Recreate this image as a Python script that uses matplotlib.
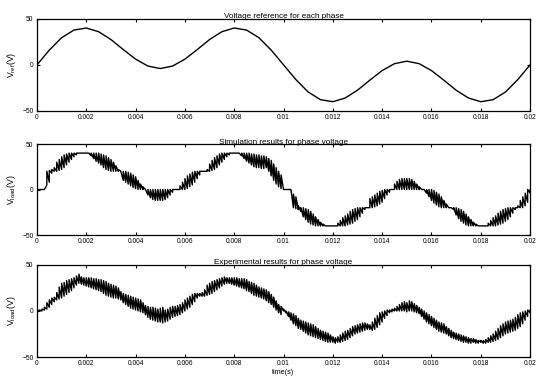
import numpy as np
import matplotlib
matplotlib.use("Agg")
import matplotlib.pyplot as plt

plt.rcParams['font.family'] = ['Liberation Sans', 'DejaVu Sans']
plt.rcParams['mathtext.default'] = 'regular'

# reference voltage, sampled every 0.5 ms
t_ref = np.linspace(0, 0.02, 41)
v_ref = [0, 16, 29.5, 37.8, 40, 36, 27.5, 16.6, 6.2, -1.3,
         -4, -1.3, 6.2, 16.6, 27.5, 36, 40, 37.8, 29.5, 16,
         0, -16, -29.5, -37.8, -40, -36, -27.5, -16.6, -6.2, 1.3,
         4, 1.3, -6.2, -16.6, -27.5, -36, -40, -37.8, -29.5, -16,
         0]

# PWM band (upper / lower edge) every 0.1 ms
t_pwm = np.linspace(0, 0.02, 201)

sim_hi = [0, 0, 0, 0, 20, 21, 22, 24, 30, 33,
          36, 38, 39, 40, 40, 40, 40, 40, 40, 40,
          40, 40, 40, 40, 40, 40, 39, 38, 37, 35,
          33, 30, 26, 22, 20, 20, 20, 19, 18, 16,
          14, 10, 6, 3, 0, 0, 0, 0, 0, 0,
          0, 0, 0, 0, 0, 0, 0, 0, 4, 8,
          12, 15, 17, 19, 20, 20, 20, 20, 20, 22,
          28, 32, 35, 37, 39, 40, 40, 40, 40, 40,
          40, 40, 40, 40, 40, 40, 40, 39, 39, 38,
          38, 37, 37, 36, 34, 32, 28, 24, 20, 16,
          0, 0, 0, 0, -5, -8, -18, -20, -20, -21,
          -22, -24, -27, -30, -33, -36, -38, -40, -40, -40,
          -40, -40, -37, -34, -31, -29, -27, -24, -22, -21,
          -20, -20, -20, -20, -20, -10, -8, -6, -4, -2,
          -1, 0, 0, 0, 0, 6, 9, 11, 12, 12,
          12, 12, 11, 9, 6, 3, 0, 0, 0, 0,
          0, -1, -3, -5, -8, -12, -16, -20, -20, -20,
          -20, -21, -22, -24, -27, -30, -33, -36, -38, -40,
          -40, -40, -40, -37, -34, -31, -29, -26, -24, -22,
          -21, -20, -20, -20, -20, -18, -12, -8, -4, 0,
          0]
sim_lo = [0, 0, 0, 0, 5, 8, 18, 20, 20, 21,
          22, 24, 27, 30, 33, 36, 38, 40, 40, 40,
          40, 40, 37, 34, 31, 29, 27, 24, 22, 21,
          20, 20, 20, 20, 20, 10, 8, 6, 4, 2,
          1, 0, 0, 0, 0, -6, -9, -11, -12, -12,
          -12, -12, -11, -9, -6, -3, 0, 0, 0, 0,
          0, 1, 3, 5, 8, 12, 16, 20, 20, 20,
          20, 21, 22, 24, 27, 30, 33, 36, 38, 40,
          40, 40, 40, 37, 34, 31, 29, 27, 25, 24,
          24, 23, 23, 24, 20, 15, 10, 6, 3, 1,
          0, 0, 0, 0, -20, -21, -22, -24, -30, -33,
          -36, -38, -39, -40, -40, -40, -40, -40, -40, -40,
          -40, -40, -40, -40, -40, -40, -39, -38, -37, -35,
          -33, -30, -26, -22, -20, -20, -20, -19, -18, -16,
          -14, -10, -6, -3, 0, 0, 0, 0, 0, 0,
          0, 0, 0, 0, 0, 0, 0, 0, -4, -8,
          -12, -15, -17, -19, -20, -20, -20, -20, -20, -22,
          -28, -32, -35, -37, -39, -40, -40, -40, -40, -40,
          -40, -40, -40, -40, -40, -40, -40, -39, -38, -37,
          -35, -33, -30, -26, -22, -20, -20, -20, -18, -14,
          -4]

exp_hi = [1, 1, 2, 4, 9, 12, 14, 15, 20, 26,
          30, 31, 33, 34, 35, 36, 38, 40, 37, 36,
          36, 36, 36, 35, 35, 34, 34, 33, 32, 30,
          29, 28, 27, 25, 21, 19, 18, 17, 16, 15,
          14, 13, 12, 9, 6, 5, 4, 4, 3, 2,
          3, 4, 1, 2, 4, 5, 5, 6, 7, 9,
          12, 14, 16, 18, 19, 19, 19, 20, 23, 28,
          30, 32, 33, 34, 35, 36, 37, 36, 36, 36,
          36, 36, 35, 35, 35, 34, 32, 31, 30, 28,
          26, 25, 24, 23, 21, 18, 15, 11, 7, 5,
          2, 0, -1, -2, -3, -5, -8, -10, -11, -12,
          -13, -14, -15, -17, -19, -21, -22, -23, -24, -26,
          -28, -29, -28, -26, -24, -22, -21, -19, -17, -16,
          -15, -14, -13, -13, -14, -15, -12, -8, -5, -2,
          -1, 0, 1, 1, 2, 3, 5, 7, 9, 10,
          9, 11, 10, 8, 6, 4, 2, 0, -2, -4,
          -6, -8, -10, -12, -13, -14, -17, -19, -21, -23,
          -24, -25, -26, -27, -28, -29, -30, -30, -31, -32,
          -32, -32, -31, -29, -27, -25, -22, -19, -16, -14,
          -12, -11, -10, -9, -7, -4, -2, -1, 0, 1,
          1]
exp_lo = [0, 0, 0, 1, 2, 4, 7, 10, 12, 13,
          14, 16, 18, 20, 22, 25, 28, 30, 29, 28,
          27, 26, 25, 24, 23, 22, 21, 19, 17, 16,
          15, 14, 14, 13, 12, 9, 7, 5, 3, 2,
          1, 0, -1, -2, -4, -7, -9, -10, -11, -12,
          -12, -13, -12, -11, -9, -7, -6, -5, -4, -2,
          0, 2, 4, 7, 10, 14, 16, 16, 16, 17,
          18, 19, 21, 23, 25, 27, 29, 30, 30, 29,
          28, 27, 26, 25, 24, 22, 21, 19, 17, 16,
          15, 14, 13, 11, 9, 7, 4, 1, -2, -4,
          0, -2, -6, -10, -14, -16, -19, -20, -22, -24,
          -26, -27, -28, -29, -30, -31, -32, -33, -34, -34,
          -34, -35, -34, -34, -33, -32, -31, -29, -27, -25,
          -24, -23, -22, -21, -20, -20, -21, -20, -18, -15,
          -12, -8, -5, -2, -1, 0, 0, 0, 0, 0,
          -1, 0, 0, -1, -2, -3, -6, -9, -12, -14,
          -16, -18, -20, -22, -23, -24, -25, -27, -29, -30,
          -31, -32, -33, -34, -34, -35, -35, -34, -35, -35,
          -34, -35, -35, -34, -34, -33, -32, -31, -29, -27,
          -25, -24, -23, -22, -21, -19, -17, -14, -10, -6,
          -2]

xticks = np.arange(0, 0.0201, 0.002)
xticklabels = ['0', '0.002', '0.004', '0.006', '0.008', '0.01',
               '0.012', '0.014', '0.016', '0.018', '0.02']
titles = ['Voltage reference for each phase',
          'Simulation results for phase voltage',
          'Experimental results for phase voltage']
ylabels = [r'V$_{ref}$(V)', r'V$_{load}$(V)', r'V$_{load}$(V)']


def zigzag(t, hi, lo):
    # draws the switching band as one line going up and down
    x = np.repeat(t, 2)
    y = np.column_stack([lo, hi]).ravel()
    return x, y


fig = plt.figure(figsize=(5.36, 3.76), dpi=100)
boxes = [[0.069, 0.705, 0.920, 0.245],
         [0.069, 0.375, 0.920, 0.242],
         [0.069, 0.0505, 0.920, 0.245]]
axes = [fig.add_axes(b) for b in boxes]

axes[0].plot(t_ref, v_ref, color='black', lw=1.0)
x, y = zigzag(t_pwm, sim_hi, sim_lo)
axes[1].plot(x, y, color='black', lw=1.0)
x, y = zigzag(t_pwm, exp_hi, exp_lo)
axes[2].plot(x, y, color='black', lw=1.0)

for ax, title, ylab in zip(axes, titles, ylabels):
    ax.set_xlim(0, 0.02)
    ax.set_ylim(-50, 50)
    ax.set_xticks(xticks)
    ax.set_xticklabels(xticklabels)
    ax.set_yticks([-50, 0, 50])
    ax.tick_params(direction='in', top=True, right=True, length=2.5,
                   width=0.8, labelsize=4.8, pad=2.5)
    for s in ax.spines.values():
        s.set_linewidth(0.9)
    ax.set_title(title, fontsize=5.9, pad=0.3)
    ax.set_ylabel(ylab, fontsize=6.2, labelpad=3)

axes[2].set_xlabel('time(s)', fontsize=5.2, labelpad=1)

plt.savefig('out.png', dpi=100)
